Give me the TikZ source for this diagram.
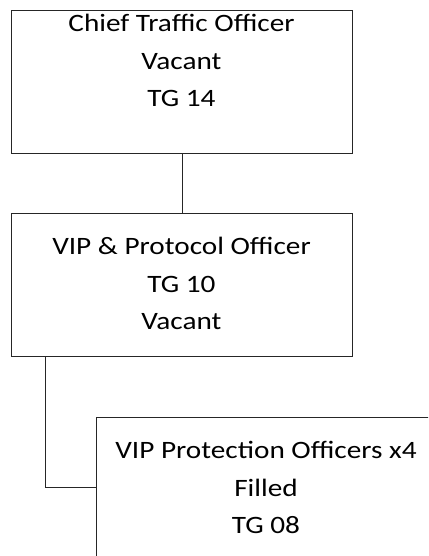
\documentclass[tikz,border=0pt]{standalone}
\usepackage{fontspec}
\setmainfont{Carlito}
\newfontfamily\lblfont[FakeStretch=1.17]{Carlito}
\begin{document}
\begin{tikzpicture}[x=1pt,y=-1pt,
  box/.style={draw=black!85, line width=0.9pt, rectangle, inner sep=0pt, anchor=north west},
  lbl/.style={font=\lblfont\fontsize{25}{25}\selectfont, text=black, inner sep=0pt, anchor=base},
  conn/.style={draw=black!85, line width=0.9pt}]
\useasboundingbox (0,0) rectangle (428,556);
\clip (0,0) rectangle (428,556);
\node[box, minimum width=341pt, minimum height=143pt] (b1) at (11,10) {};
\node[box, minimum width=341pt, minimum height=143pt] (b2) at (11,213.3) {};
\node[box, minimum width=380pt, minimum height=200pt] (b3) at (96,416.7) {};
\node[lbl] (t11) at (181.5,32) {Chief Traffic Officer};
\node[lbl] (t12) at (181.5,69.5) {Vacant};
\node[lbl] (t13) at (181.5,107) {TG 14};
\node[lbl] (t21) at (181.5,254.5) {VIP \& Protocol Officer};
\node[lbl] (t22) at (181.5,292) {TG 10};
\node[lbl] (t23) at (181.5,329.5) {Vacant};
\node[lbl] (t31) at (266,458.5) {VIP Protection Officers x4};
\node[lbl] (t32) at (266,496) {Filled};
\node[lbl] (t33) at (266,533.5) {TG 08};
\draw[conn] (b1.south) -- (b2.north);
\coordinate (c1) at (45,487.7);
\draw[conn] (b2.south west -| c1) -- (c1) -- (c1 -| b3.west);
\end{tikzpicture}
\end{document}
